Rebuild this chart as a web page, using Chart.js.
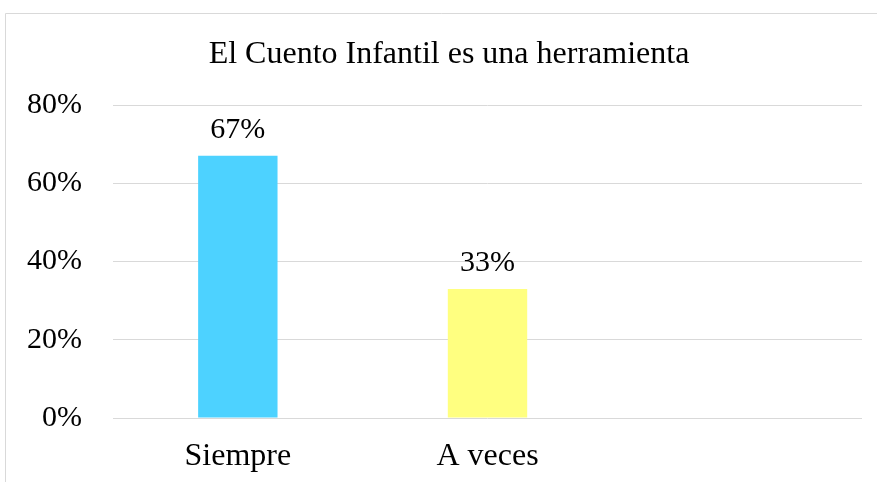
<!DOCTYPE html>
<html>
	<head>
		<title>El Cuento Infantil es una herramienta</title>
		<script src="https://cdn.jsdelivr.net/npm/chart.js@4.4.0/dist/chart.umd.min.js"></script>
		<style>
			html, body { margin: 0; padding: 0; background: #fff; }
			#wrap { width: 877px; height: 482px; }
		</style>
	</head>
	<body>
		<div id="wrap"><canvas id="myChart"></canvas></div>
		<script>
			// dane
			const chartTitle = "El Cuento Infantil es una herramienta";
			const categories = ["Siempre", "A veces", ""];
			const values = [67, 33, null];
			const barColors = ["#4dd2ff", "#ffff80", "#ffffff"];
			const yTicks = [0, 20, 40, 60, 80];

			const serif = "'Liberation Serif', 'Times New Roman', serif";

			// ramka wokół wykresu (górna i lewa krawędź) + tytuł
			const frame = {
				id: 'frame',
				beforeDraw(chart) {
					const ctx = chart.ctx;
					ctx.save();
					ctx.strokeStyle = '#d9d9d9';
					ctx.lineWidth = 1;
					ctx.beginPath();
					ctx.moveTo(5.5, 482);
					ctx.lineTo(5.5, 13.5);
					ctx.lineTo(877, 13.5);
					ctx.stroke();
					ctx.font = '32px ' + serif;
					ctx.fillStyle = '#000';
					ctx.textAlign = 'center';
					ctx.textBaseline = 'alphabetic';
					ctx.fillText(chartTitle, 449, 63);
					ctx.restore();
				}
			};

			// etykiety nad słupkami
			const barLabels = {
				id: 'barLabels',
				afterDatasetsDraw(chart) {
					const ctx = chart.ctx;
					ctx.save();
					ctx.font = '30px ' + serif;
					ctx.fillStyle = '#000';
					ctx.textAlign = 'center';
					ctx.textBaseline = 'alphabetic';
					chart.getDatasetMeta(0).data.forEach((bar, i) => {
						if (values[i] == null) return;
						ctx.fillText(values[i] + '%', bar.x, bar.y - 17.5);
					});
					ctx.restore();
				}
			};

			var chart = new Chart(document.getElementById('myChart').getContext('2d'), {
				type: 'bar',
				data: {
					labels: categories,
					datasets: [{
						data: values,
						backgroundColor: barColors,
						borderWidth: 0,
						categoryPercentage: 1,
						barPercentage: 0.318
					}]
				},
				options: {
					responsive: true,
					maintainAspectRatio: false,
					animation: false,
					layout: { padding: { left: 0, right: 15, top: 105, bottom: 0 } },
					plugins: {
						legend: { display: false },
						tooltip: { enabled: false },
						title: { display: false }
					},
					scales: {
						x: {
							grid: { display: false, drawTicks: false },
							border: { display: false },
							ticks: { color: '#000', font: { family: serif, size: 32 }, padding: 19 },
							afterFit(scale) { scale.height = 64; }
						},
						y: {
							min: 0,
							max: 80,
							afterBuildTicks(scale) { scale.ticks = yTicks.map(v => ({ value: v })); },
							grid: { color: '#d9d9d9', lineWidth: 1, drawTicks: false },
							border: { display: false },
							ticks: {
								color: '#000',
								font: { family: serif, size: 30 },
								padding: 31,
								callback: v => v + '%'
							},
							afterFit(scale) { scale.width = 113; }
						}
					}
				},
				plugins: [frame, barLabels]
			});
		</script>
	</body>
</html>
